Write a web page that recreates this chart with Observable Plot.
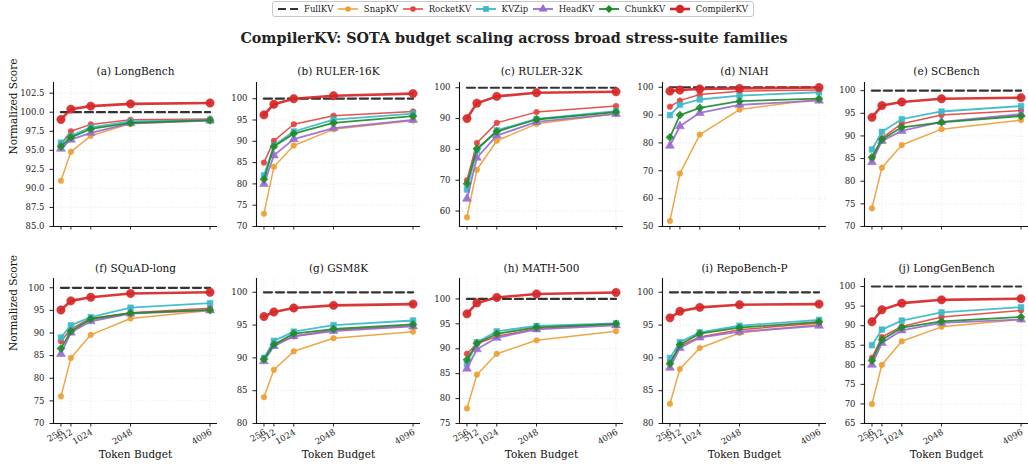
<!DOCTYPE html>
<html><head><meta charset="utf-8">
<script src="https://cdn.jsdelivr.net/npm/d3@7"></script>
<script src="https://cdn.jsdelivr.net/npm/@observablehq/plot@0.6"></script>
<style>
body{margin:0;background:#fff;font-family:"DejaVu Serif",serif;color:#222;}
#wrap{position:relative;width:1028px;height:465px;overflow:hidden;background:#fff;}
svg.panel, svg.panel text{font-family:"DejaVu Serif",serif !important;}
#legend{position:absolute;top:1px;left:272px;width:482px;height:16px;border:1px solid #c8c8c8;border-radius:3px;display:flex;align-items:center;justify-content:space-between;padding:0 5px;font-size:8.5px;box-sizing:border-box;}
#legend .item{display:flex;align-items:center;gap:6px;}
#title{position:absolute;top:30px;left:0;width:1028px;text-align:center;font-weight:bold;font-size:14.3px;}
</style></head><body><div id="wrap"><div id="legend"></div><div id="title">CompilerKV: SOTA budget scaling across broad stress-suite families</div></div>
<script>
const budgets = [256, 512, 1024, 2048, 4096];
const budgetLabels = ["256", "512", "1024", "2048", "4096"];
const benchmarks = ["(a) LongBench", "(b) RULER-16K", "(c) RULER-32K", "(d) NIAH", "(e) SCBench",
  "(f) SQuAD-long", "(g) GSM8K", "(h) MATH-500", "(i) RepoBench-P", "(j) LongGenBench"];
const methodNames = ["FullKV", "SnapKV", "RocketKV", "KVZip", "HeadKV", "ChunkKV", "CompilerKV"];

const fullKV = [100, 100, 100, 100, 100, 100, 100, 100, 100, 100];
const snapKV = [
  [91.0, 94.8, 96.9, 98.5, 98.9],
  [73.0, 84.0, 89.0, 92.8, 94.9],
  [58.0, 73.4, 82.8, 88.3, 91.6],
  [52.0, 69.0, 83.0, 92.0, 95.8],
  [74.0, 83.0, 88.0, 91.5, 93.5],
  [76.0, 84.5, 89.6, 93.2, 95.0],
  [84.0, 88.2, 91.0, 93.0, 94.0],
  [78.0, 84.8, 89.0, 91.7, 93.5],
  [83.0, 88.3, 91.5, 93.8, 95.1],
  [70.0, 80.0, 86.0, 89.7, 91.6]
];
const rocketKV = [
  [95.8, 97.5, 98.4, 99.0, 99.1],
  [85.0, 90.1, 94.0, 96.0, 97.0],
  [70.0, 82.1, 88.6, 92.1, 94.1],
  [93.0, 95.2, 97.4, 98.6, 99.0],
  [85.0, 89.5, 92.7, 94.6, 95.6],
  [88.2, 90.9, 93.2, 94.5, 95.5],
  [89.9, 92.0, 93.3, 94.2, 94.9],
  [89.0, 91.0, 92.5, 94.0, 95.0],
  [89.4, 91.8, 93.2, 94.3, 95.3],
  [81.8, 87.1, 89.8, 92.2, 93.9]
];
const kvZip = [
  [96.0, 96.9, 98.0, 98.8, 99.0],
  [82.0, 89.0, 92.3, 95.1, 96.5],
  [67.0, 79.7, 86.2, 89.9, 92.4],
  [90.0, 93.7, 95.6, 97.0, 98.2],
  [87.0, 90.9, 93.7, 95.4, 96.6],
  [89.0, 91.7, 93.5, 95.6, 96.6],
  [90.0, 92.6, 94.0, 95.0, 95.7],
  [87.0, 91.3, 93.5, 94.6, 95.1],
  [90.0, 92.4, 93.9, 94.9, 95.8],
  [85.0, 89.0, 91.3, 93.4, 94.7]
];
const headKV = [
  [95.2, 96.4, 97.3, 98.55, 98.9],
  [80.0, 86.7, 90.5, 93.1, 95.0],
  [64.0, 77.3, 84.5, 88.9, 91.5],
  [79.0, 86.0, 90.8, 93.7, 95.2],
  [84.2, 88.9, 91.1, 93.1, 94.8],
  [85.4, 90.1, 92.6, 94.3, 95.0],
  [89.5, 91.8, 93.3, 94.1, 94.8],
  [86.0, 89.9, 92.2, 93.9, 94.7],
  [88.5, 91.5, 93.1, 94.0, 94.9],
  [80.0, 85.6, 88.8, 90.7, 91.6]
];
const chunkKV = [
  [95.5, 96.7, 97.8, 98.6, 98.95],
  [81.1, 88.8, 91.8, 94.3, 95.9],
  [68.9, 80.2, 85.8, 89.7, 92.1],
  [82.0, 90.0, 92.6, 95.0, 95.9],
  [85.3, 89.2, 91.9, 93.0, 94.4],
  [86.6, 90.4, 93.1, 94.4, 95.1],
  [89.8, 92.05, 93.7, 94.4, 95.1],
  [87.8, 91.1, 93.0, 94.3, 95.0],
  [89.1, 92.0, 93.7, 94.6, 95.5],
  [81.1, 86.4, 89.5, 91.1, 92.2]
];
const compilerKV = [
  [99.05, 100.4, 100.8, 101.1, 101.2],
  [96.2, 98.7, 100.0, 100.7, 101.2],
  [90.0, 95.0, 97.2, 98.4, 98.7],
  [98.6, 99.0, 99.4, 99.6, 99.9],
  [94.1, 96.7, 97.5, 98.2, 98.45],
  [95.1, 97.1, 97.9, 98.75, 99.0],
  [96.3, 97.0, 97.6, 98.0, 98.2],
  [97.0, 99.2, 100.3, 101.0, 101.3],
  [96.1, 97.1, 97.7, 98.1, 98.2],
  [91.0, 94.05, 95.75, 96.6, 96.9]
];
const yDomains = [[85, 103.9], [70, 103.8], [55, 101.7], [50, 101.7], [70, 101.8],
  [70, 102.05], [80, 102.1], [75, 104.1], [80, 102.1], [65, 102.05]];
const yTicks = [
  [85, 87.5, 90, 92.5, 95, 97.5, 100, 102.5],
  [70, 75, 80, 85, 90, 95, 100],
  [60, 70, 80, 90, 100],
  [50, 60, 70, 80, 90, 100],
  [70, 75, 80, 85, 90, 95, 100],
  [70, 75, 80, 85, 90, 95, 100],
  [80, 85, 90, 95, 100],
  [75, 80, 85, 90, 95, 100],
  [80, 85, 90, 95, 100],
  [65, 70, 75, 80, 85, 90, 95, 100]
];
const xDomain = [64, 4288];

const series = [
  {name: "SnapKV", values: snapKV, color: "#eba035", symbol: "circle", r: 2.8, sw: 1.5},
  {name: "RocketKV", values: rocketKV, color: "#e4433f", symbol: "circle", r: 2.8, sw: 1.5},
  {name: "KVZip", values: kvZip, color: "#3bb8c9", symbol: "square", r: 3.2, sw: 1.8},
  {name: "HeadKV", values: headKV, color: "#9a6bd0", symbol: "triangle", r: 3.3, sw: 1.8},
  {name: "ChunkKV", values: chunkKV, color: "#1f8c2c", symbol: "diamond2", r: 3.6, sw: 1.8},
  {name: "CompilerKV", values: compilerKV, color: "#d62728", symbol: "circle", r: 4.2, sw: 2.6}
];

const wrap = document.getElementById("wrap");
const frameLefts = [53, 256, 459, 662, 864];
const frameW = 164;

for (let i = 0; i < benchmarks.length; i++) {
  const row = Math.floor(i / 5), col = i % 5;
  const top = row === 0 ? 50 : 250;
  const mt = row === 0 ? 32 : 28;
  const fh = row === 0 ? 144 : 145;
  const mb = row === 0 ? 10 : 42;
  const ml = 53, mr = 6;
  const gridStyle = {stroke: "#bbb", strokeOpacity: 0.5, strokeDasharray: "1,2", strokeWidth: 0.7};
  const marks = [
    Plot.ruleY(yTicks[i], gridStyle),
    Plot.ruleX(budgets, gridStyle),
    Plot.line(budgets, {x: d => d, y: () => fullKV[i], stroke: "#333", strokeWidth: 2.2, strokeDasharray: "8,4"})
  ];
  for (const s of series) {
    const data = budgets.map((b, j) => ({budget: b, score: s.values[i][j]}));
    marks.push(Plot.line(data, {x: "budget", y: "score", stroke: s.color, strokeWidth: s.sw, strokeOpacity: 0.92}));
    marks.push(Plot.dot(data, {x: "budget", y: "score", fill: s.color, symbol: s.symbol, r: s.r, stroke: s.color, strokeWidth: 0.5, fillOpacity: 0.92}));
  }
  marks.push(Plot.ruleX([xDomain[0]], {stroke: "#111", strokeWidth: 1.1}));
  marks.push(Plot.ruleY([yDomains[i][0]], {stroke: "#111", strokeWidth: 1.1}));
  marks.push(Plot.text([benchmarks[i]], {text: d => d, frameAnchor: "top", dy: row === 0 ? -15 : -14, fontSize: 10.5, fill: "#111"}));
  if (col === 0) marks.push(Plot.text(["Normalized Score"], {text: d => d, frameAnchor: "left", dx: -40, rotate: -90, fontSize: 10.5, fill: "#111"}));
  if (row === 1) {
    marks.push(Plot.text(budgets, {x: d => d, text: (d, j) => budgetLabels[j], frameAnchor: "bottom", rotate: -30, textAnchor: "end", lineAnchor: "middle", dy: 8, dx: 1, fontSize: 8.5, fill: "#222"}));
    marks.push(Plot.text(["Token Budget"], {text: d => d, frameAnchor: "bottom", dy: 34, fontSize: 10.5, fill: "#111"}));
  }

  const chart = Plot.plot({
    width: ml + frameW + mr,
    height: mt + fh + mb,
    marginLeft: ml, marginRight: mr, marginTop: mt, marginBottom: mb,
    style: {fontFamily: "DejaVu Serif", fontSize: "8.5px", background: "transparent", overflow: "visible", color: "#222"},
    x: {domain: xDomain, ticks: budgets, tickFormat: () => "", tickSize: 3.5, label: null},
    y: {domain: yDomains[i], ticks: yTicks[i], tickFormat: i === 0 ? d3.format(".1f") : d3.format("d"), tickSize: 3.5, label: null},
    marks
  });
  chart.classList.add("panel");
  chart.style.left = (frameLefts[col] - ml) + "px";
  chart.style.top = top + "px";
  chart.style.position = "absolute";
  wrap.appendChild(chart);
}

// Legend
const legend = document.getElementById("legend");
const legendItems = [{name: "FullKV", color: "#333", dashed: true}].concat(series);
for (const it of legendItems) {
  const div = document.createElement("div");
  div.className = "item";
  const svg = d3.create("svg").attr("width", 20).attr("height", 10);
  if (it.dashed) {
    svg.append("line").attr("x1", 0).attr("x2", 20).attr("y1", 5).attr("y2", 5)
      .attr("stroke", it.color).attr("stroke-width", 2.2).attr("stroke-dasharray", "8,4");
  } else {
    svg.append("line").attr("x1", 0).attr("x2", 20).attr("y1", 5).attr("y2", 5)
      .attr("stroke", it.color).attr("stroke-width", it.sw);
    const symMap = {circle: d3.symbolCircle, square: d3.symbolSquare, triangle: d3.symbolTriangle, diamond2: d3.symbolDiamond2};
    svg.append("path").attr("transform", "translate(10,5)")
      .attr("d", d3.symbol(symMap[it.symbol], Math.PI * it.r * it.r)())
      .attr("fill", it.color);
  }
  div.appendChild(svg.node());
  const span = document.createElement("span");
  span.textContent = it.name;
  div.appendChild(span);
  legend.appendChild(div);
}
</script>
</body></html>
